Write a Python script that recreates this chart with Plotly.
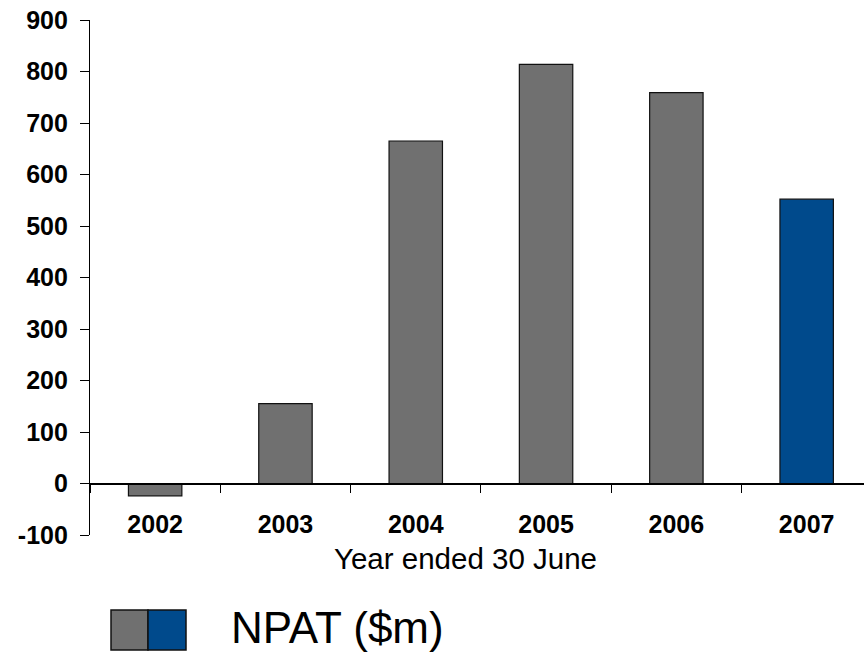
import plotly.graph_objects as go

# NPAT by financial year ($m)
years = ["2002", "2003", "2004", "2005", "2006", "2007"]
npat = [-24, 155, 665, 814, 759, 552]
bar_colors = ["#707070", "#707070", "#707070", "#707070", "#707070", "#004a8c"]

y_ticks = list(range(-100, 1000, 100))

FONT = "Liberation Sans, Arial, sans-serif"

# pixel helpers for the plot area (x: 90..864, y: 20..535)
def px_x(p):
    return (p - 90) / 774

def px_y(p):
    return (535 - p) / 515

fig = go.Figure()
fig.add_trace(go.Bar(
    x=years,
    y=npat,
    width=0.41,
    marker=dict(color=bar_colors, line=dict(color="#111111", width=1.2)),
    showlegend=False,
    hoverinfo="x+y",
))

fig.update_layout(
    width=864,
    height=654,
    margin=dict(l=90, r=0, t=20, b=119),
    paper_bgcolor="white",
    plot_bgcolor="white",
    font=dict(family=FONT, color="black"),
    xaxis=dict(
        type="category",
        range=[-0.5, 5.44],
        anchor="free",
        position=0.1,
        showline=True,
        linecolor="black",
        linewidth=1.5,
        ticks="outside",
        tickson="boundaries",
        ticklen=9,
        tickcolor="black",
        tickwidth=1.2,
        ticklabelstandoff=19,
        tickfont=dict(family=FONT, size=25, weight="bold", color="black"),
        showgrid=False,
        zeroline=False,
        fixedrange=True,
    ),
    yaxis=dict(
        range=[-100, 900],
        tickvals=y_ticks,
        ticktext=[str(v) for v in y_ticks],
        showline=True,
        linecolor="black",
        linewidth=1.2,
        ticks="outside",
        ticklen=9,
        tickcolor="black",
        tickwidth=1.2,
        ticklabelstandoff=7,
        tickfont=dict(family=FONT, size=25, weight="bold", color="black"),
        showgrid=False,
        zeroline=False,
        fixedrange=True,
    ),
)

# x-axis title
fig.add_annotation(xref="paper", yref="paper",
                   x=px_x(465.5), y=px_y(558),
                   xanchor="center", yanchor="middle", showarrow=False,
                   text="Year ended 30 June",
                   font=dict(family=FONT, size=29.5, color="black"))

# Legend key: grey and blue swatches followed by the series name
for x0, x1, col in [(111, 148, "#707070"), (148, 186, "#004a8c")]:
    fig.add_shape(type="rect", xref="paper", yref="paper",
                  x0=px_x(x0), x1=px_x(x1),
                  y0=px_y(650), y1=px_y(610),
                  fillcolor=col, line=dict(color="#111111", width=1.5))
fig.add_annotation(xref="paper", yref="paper",
                   x=px_x(230), y=px_y(627),
                   xanchor="left", yanchor="middle", showarrow=False,
                   borderpad=0,
                   text="NPAT ($m)",
                   font=dict(family=FONT, size=44, color="black"))

fig.write_html("out.html")
